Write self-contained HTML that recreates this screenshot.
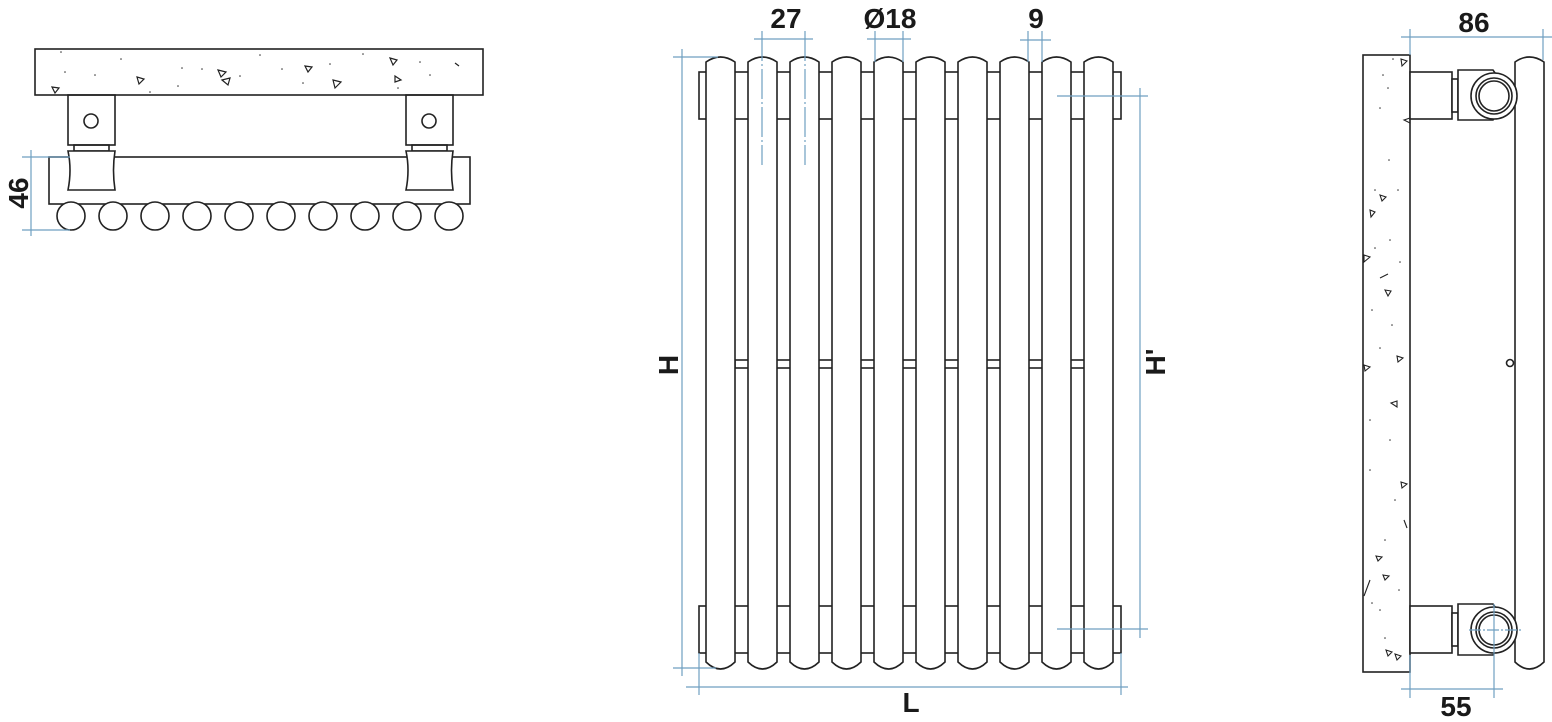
<!DOCTYPE html>
<html><head><meta charset="utf-8"><style>
html,body{margin:0;padding:0;background:#fff;}
svg{display:block;}
text{font-family:"Liberation Sans",sans-serif;font-size:28px;font-weight:bold;fill:#1a1a1a;text-anchor:middle;}
</style></head><body>
<svg width="1552" height="722" viewBox="0 0 1552 722" xmlns="http://www.w3.org/2000/svg">
<defs>
<path id="tube" d="M0,662 L0,62 Q14.5,52 29,62 L29,662 Q14.5,676 0,662 Z" fill="#fff" stroke="#222" stroke-width="1.6"/>
<circle id="rc" r="14" fill="#fff" stroke="#222" stroke-width="1.6"/>
</defs>
<g fill="none" stroke="#222" stroke-width="1.6">
<rect x="35" y="49" width="448" height="46" fill="#fff"/>
<rect x="68" y="95" width="47" height="50"/>
<rect x="406" y="95" width="47" height="50"/>
<circle cx="91" cy="121" r="7"/>
<circle cx="429" cy="121" r="7"/>
<rect x="74" y="145" width="35" height="6"/>
<rect x="412" y="145" width="35" height="6"/>
<rect x="49" y="157" width="421" height="47"/>
<path d="M68,151 L115,151 Q112,170 115,190 L68,190 Q72,170 68,151 Z" fill="#fff"/>
<path d="M406,151 L453,151 Q450,170 453,190 L406,190 Q410,170 406,151 Z" fill="#fff"/>
</g>
<use href="#rc" x="71" y="216"/><use href="#rc" x="113" y="216"/><use href="#rc" x="155" y="216"/><use href="#rc" x="197" y="216"/><use href="#rc" x="239" y="216"/><use href="#rc" x="281" y="216"/><use href="#rc" x="323" y="216"/><use href="#rc" x="365" y="216"/><use href="#rc" x="407" y="216"/><use href="#rc" x="449" y="216"/>
<g fill="none" stroke="#222" stroke-width="1.2">
<path d="M218,70 l8,2 l-5,5z M137,77 l7,2 l-5,5z M222,80 l8,-2 l-2,7z M305,66 l7,1 l-4,5z M333,80 l8,2 l-6,6z M390,58 l7,2 l-4,5z M395,76 l6,4 l-6,2z M52,87 l7,1 l-4,5z M455,63 l4,3"/>
</g>
<g fill="#333">
<circle cx="61" cy="52" r="0.8"/><circle cx="65" cy="72" r="0.8"/><circle cx="95" cy="75" r="0.8"/><circle cx="121" cy="59" r="0.8"/><circle cx="182" cy="68" r="0.8"/><circle cx="202" cy="69" r="0.8"/><circle cx="240" cy="76" r="0.8"/><circle cx="260" cy="55" r="0.8"/><circle cx="282" cy="69" r="0.8"/><circle cx="330" cy="64" r="0.8"/><circle cx="363" cy="54" r="0.8"/><circle cx="398" cy="88" r="0.8"/><circle cx="420" cy="62" r="0.8"/><circle cx="430" cy="75" r="0.8"/><circle cx="150" cy="92" r="0.8"/><circle cx="178" cy="86" r="0.8"/><circle cx="303" cy="83" r="0.8"/></g>
<g stroke="#6f9fc0" stroke-width="1.2" fill="none">
<line x1="31" y1="150" x2="31" y2="236"/><line x1="22" y1="157" x2="70" y2="157"/><line x1="22" y1="230" x2="70" y2="230"/>
</g>
<text transform="translate(28,193) rotate(-90)">46</text>

<g fill="#fff" stroke="#222" stroke-width="1.6">
<rect x="699" y="72" width="422" height="47"/>
<rect x="699" y="606" width="422" height="47"/>
<rect x="735" y="360" width="350" height="8"/>
</g>
<use href="#tube" x="706"/><use href="#tube" x="748"/><use href="#tube" x="790"/><use href="#tube" x="832"/><use href="#tube" x="874"/><use href="#tube" x="916"/><use href="#tube" x="958"/><use href="#tube" x="1000"/><use href="#tube" x="1042"/><use href="#tube" x="1084"/>
<g stroke="#6f9fc0" stroke-width="1.2" fill="none">
<line x1="682" y1="49" x2="682" y2="676"/><line x1="673" y1="57" x2="718" y2="57"/><line x1="673" y1="668" x2="716" y2="668"/>
<line x1="686" y1="687" x2="1128" y2="687"/><line x1="699" y1="653" x2="699" y2="695"/><line x1="1121" y1="653" x2="1121" y2="695"/>
<line x1="1140" y1="88" x2="1140" y2="638"/><line x1="1057" y1="96" x2="1148" y2="96"/><line x1="1057" y1="629" x2="1148" y2="629"/>
<line x1="754" y1="39" x2="813" y2="39"/><line x1="762" y1="31" x2="762" y2="165" stroke-dasharray="30 3 2 3"/><line x1="805" y1="31" x2="805" y2="165" stroke-dasharray="30 3 2 3"/>
<line x1="867" y1="39" x2="911" y2="39"/><line x1="875" y1="31" x2="875" y2="62"/><line x1="903" y1="31" x2="903" y2="62"/>
<line x1="1020" y1="40" x2="1051" y2="40"/><line x1="1028" y1="31" x2="1028" y2="62"/><line x1="1042" y1="31" x2="1042" y2="62"/>
</g>
<text x="786" y="28">27</text>
<text x="890" y="28">Ø18</text>
<text x="1036" y="28">9</text>
<text x="911" y="712">L</text>
<text transform="translate(678,365) rotate(-90)">H</text>
<text transform="translate(1165,362) rotate(-90)">H'</text>

<g fill="#fff" stroke="#222" stroke-width="1.6">
<rect x="1363" y="55" width="47" height="617"/>
<path d="M1515,662 L1515,62 Q1529.5,52 1544,62 L1544,662 Q1529.5,676 1515,662 Z"/>
<rect x="1410" y="72" width="42" height="47"/>
<rect x="1452" y="79" width="6" height="33"/>
<path d="M1458,70 L1493,70 L1500,80 L1500,112 L1493,120 L1458,120 Z"/>
<circle cx="1494" cy="96" r="23"/><circle cx="1494" cy="96" r="18"/><circle cx="1494" cy="96" r="15"/>
<rect x="1410" y="606" width="42" height="47"/>
<rect x="1452" y="613" width="6" height="33"/>
<path d="M1458,604 L1493,604 L1500,614 L1500,646 L1493,655 L1458,655 Z"/>
<circle cx="1494" cy="630" r="23"/><circle cx="1494" cy="630" r="18"/><circle cx="1494" cy="630" r="15"/>
<circle cx="1510" cy="363" r="3.5"/>
</g>
<g fill="none" stroke="#222" stroke-width="1.1">
<path d="M1401,59 l6,2 l-5,5z M1404,120 l6,-2 l0,5z M1380,195 l6,2 l-4,4z M1370,210 l5,2 l-4,5z M1364,255 l6,2 l-6,5z M1380,278 l8,-4 M1385,290 l6,1 l-3,5z M1397,356 l6,2 l-5,4z M1364,365 l6,2 l-5,4z M1391,403 l6,-2 l0,6z M1401,482 l6,2 l-5,4z M1404,520 l3,8 M1376,556 l6,1 l-4,4z M1383,575 l6,1 l-4,4z M1364,596 l6,-16 M1386,650 l6,2 l-4,4z M1395,654 l6,2 l-4,4z"/>
</g>
<g fill="#333">
<circle cx="1393" cy="59" r="0.8"/><circle cx="1383" cy="75" r="0.8"/><circle cx="1388" cy="88" r="0.8"/><circle cx="1380" cy="108" r="0.8"/><circle cx="1389" cy="160" r="0.8"/><circle cx="1375" cy="190" r="0.8"/><circle cx="1398" cy="190" r="0.8"/><circle cx="1390" cy="240" r="0.8"/><circle cx="1375" cy="248" r="0.8"/><circle cx="1400" cy="262" r="0.8"/><circle cx="1372" cy="310" r="0.8"/><circle cx="1392" cy="325" r="0.8"/><circle cx="1380" cy="348" r="0.8"/><circle cx="1370" cy="420" r="0.8"/><circle cx="1390" cy="440" r="0.8"/><circle cx="1370" cy="470" r="0.8"/><circle cx="1395" cy="500" r="0.8"/><circle cx="1385" cy="540" r="0.8"/><circle cx="1399" cy="590" r="0.8"/><circle cx="1380" cy="610" r="0.8"/><circle cx="1385" cy="638" r="0.8"/><circle cx="1372" cy="603" r="0.8"/></g>
<g stroke="#6f9fc0" stroke-width="1.2" fill="none">
<line x1="1401" y1="37" x2="1552" y2="37"/><line x1="1410" y1="29" x2="1410" y2="55"/><line x1="1543" y1="29" x2="1543" y2="60"/>
<line x1="1401" y1="689" x2="1503" y2="689"/><line x1="1410" y1="655" x2="1410" y2="698"/><line x1="1494" y1="604" x2="1494" y2="698"/>
<line x1="1469" y1="630" x2="1521" y2="630" stroke-dasharray="12 2 2 2"/>
</g>
<text x="1474" y="32">86</text>
<text x="1456" y="716">55</text>
</svg>
</body></html>
